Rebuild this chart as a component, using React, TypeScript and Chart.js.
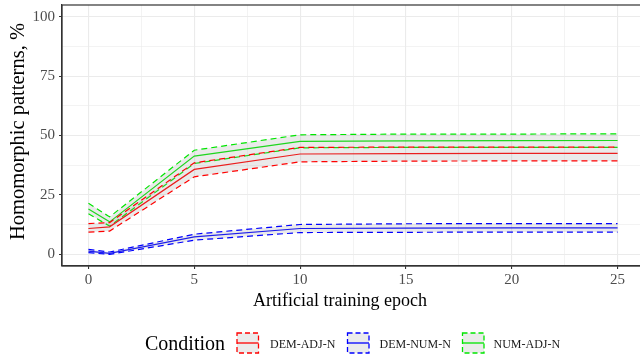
import React, { useEffect, useRef } from "react";
import { Chart, registerables } from "chart.js";

Chart.register(...registerables);

// ---- data ----
const epochs = [0, 1, 5, 10, 15, 20, 25];

const demAdjMean = [10.8, 11.5, 35.7, 42.2, 42.4, 42.5, 42.5];
const demAdjUpper = [12.9, 13.3, 38.5, 45.0, 45.1, 45.1, 45.1];
const demAdjLower = [9.3, 9.7, 32.6, 38.9, 39.2, 39.3, 39.3];

const demNumMean = [1.3, 0.3, 7.3, 10.8, 11.0, 11.1, 11.1];
const demNumUpper = [2.0, 0.9, 8.4, 12.5, 12.8, 12.9, 12.9];
const demNumLower = [0.6, -0.1, 5.9, 9.1, 9.2, 9.3, 9.3];

const numAdjMean = [19.0, 13.6, 41.3, 47.5, 47.7, 47.8, 47.9];
const numAdjUpper = [21.4, 15.7, 43.8, 50.3, 50.6, 50.6, 50.7];
const numAdjLower = [17.0, 11.8, 38.2, 44.8, 45.0, 45.0, 45.0];

const conditionNames = ["DEM-ADJ-N", "DEM-NUM-N", "NUM-ADJ-N"];
const conditionColors = ["#ff0000", "#0000ff", "#00e600"];

const xTicks = [0, 2.5, 5, 7.5, 10, 12.5, 15, 17.5, 20, 22.5, 25];
const yTicks = [0, 12.5, 25, 37.5, 50, 62.5, 75, 87.5, 100];

const xTitle = "Artificial training epoch";
const yTitle = "Homomorphic patterns, %";
const legendTitle = "Condition";

const FONT = "'Liberation Serif', 'DejaVu Serif', serif";
const RIBBON = "rgba(150,150,150,0.2)";

const toPts = (ys: number[]) => epochs.map((x, i) => ({ x, y: ys[i] }));

function buildDatasets() {
  const groups = [
    [demAdjMean, demAdjUpper, demAdjLower],
    [demNumMean, demNumUpper, demNumLower],
    [numAdjMean, numAdjUpper, numAdjLower],
  ];
  const ds: any[] = [];
  groups.forEach((g, k) => {
    const color = conditionColors[k];
    ds.push({
      label: conditionNames[k] + " upper",
      data: toPts(g[1]),
      borderColor: color,
      borderWidth: 1.2,
      borderDash: [6, 4],
      pointRadius: 0,
      fill: false,
      tension: 0,
    });
    ds.push({
      label: conditionNames[k] + " lower",
      data: toPts(g[2]),
      borderColor: color,
      borderWidth: 1.2,
      borderDash: [6, 4],
      pointRadius: 0,
      fill: "-1",
      backgroundColor: RIBBON,
      tension: 0,
    });
    ds.push({
      label: conditionNames[k],
      data: toPts(g[0]),
      borderColor: color,
      borderWidth: 1.2,
      pointRadius: 0,
      fill: false,
      tension: 0,
    });
  });
  return ds;
}

const isMajor = (v: number, step: number) => Math.abs(v / step - Math.round(v / step)) < 1e-6;

const decorPlugin = {
  id: "decor",
  afterDatasetsDraw(chart: any) {
    const { ctx, chartArea } = chart;
    ctx.save();
    ctx.strokeStyle = "#333333";
    ctx.lineWidth = 1.2;
    ctx.strokeRect(chartArea.left, chartArea.top, chartArea.right - chartArea.left, chartArea.bottom - chartArea.top);
    ctx.restore();
  },
  afterDraw(chart: any) {
    const { ctx } = chart;
    ctx.save();
    ctx.fillStyle = "#000000";
    // x title
    ctx.font = `18px ${FONT}`;
    ctx.textAlign = "center";
    ctx.textBaseline = "alphabetic";
    ctx.fillText(xTitle, 340, 305.5);
    // y title
    ctx.save();
    ctx.translate(24, 131.5);
    ctx.rotate(-Math.PI / 2);
    ctx.font = `20.5px ${FONT}`;
    ctx.textAlign = "center";
    ctx.textBaseline = "alphabetic";
    ctx.fillText(yTitle, 0, 0);
    ctx.restore();
    // legend
    ctx.font = `20px ${FONT}`;
    ctx.textAlign = "left";
    ctx.fillText(legendTitle, 145, 350);
    const keyX = [237, 347.5, 462.5];
    const textX = [270, 379.5, 493.5];
    for (let k = 0; k < 3; k++) {
      const x = keyX[k];
      const y = 333;
      const w = 21.5;
      const h = 20;
      ctx.fillStyle = "#ebebeb";
      ctx.fillRect(x, y, w, h);
      ctx.strokeStyle = conditionColors[k];
      ctx.lineWidth = 1.3;
      ctx.setLineDash([5, 3]);
      ctx.strokeRect(x, y, w, h);
      ctx.setLineDash([]);
      ctx.beginPath();
      ctx.moveTo(x, y + h / 2);
      ctx.lineTo(x + w, y + h / 2);
      ctx.stroke();
      ctx.fillStyle = "#1a1a1a";
      ctx.font = `12px ${FONT}`;
      ctx.fillText(conditionNames[k], textX[k], 348.3);
    }
    ctx.restore();
  },
};

export default function App() {
  const ref = useRef<HTMLCanvasElement | null>(null);
  useEffect(() => {
    if (!ref.current) return;
    const chart = new Chart(ref.current, {
      type: "line",
      data: { datasets: buildDatasets() },
      plugins: [decorPlugin],
      options: {
        animation: false,
        responsive: false,
        maintainAspectRatio: false,
        layout: { padding: { top: 5, right: 16, bottom: 0, left: 0 } },
        plugins: { legend: { display: false }, tooltip: { enabled: false } },
        scales: {
          x: {
            type: "linear",
            min: -1.25,
            max: 26.25,
            afterBuildTicks: (s: any) => {
              s.ticks = xTicks.map((v) => ({ value: v }));
            },
            afterFit: (s: any) => {
              s.height = 90;
              s.paddingLeft = 0;
              s.paddingRight = 0;
            },
            ticks: {
              autoSkip: false,
              maxRotation: 0,
              padding: 2,
              color: "#4d4d4d",
              font: { family: FONT, size: 15 },
              callback: (v: any) => (isMajor(Number(v), 5) ? String(v) : ""),
            },
            grid: {
              color: "#ebebeb",
              lineWidth: (c: any) => (c.tick && isMajor(c.tick.value, 5) ? 1.1 : 0.6),
              tickLength: 3,
              tickColor: (c: any) => (c.tick && isMajor(c.tick.value, 5) ? "#333333" : "rgba(0,0,0,0)"),
              tickWidth: 1.1,
            },
            border: { display: true, color: "#333333", width: 1.2 },
          },
          y: {
            type: "linear",
            min: -5,
            max: 105,
            afterBuildTicks: (s: any) => {
              s.ticks = yTicks.map((v) => ({ value: v }));
            },
            afterFit: (s: any) => {
              s.width = 62;
              s.paddingTop = 0;
              s.paddingBottom = 0;
            },
            ticks: {
              autoSkip: false,
              padding: 4,
              color: "#4d4d4d",
              font: { family: FONT, size: 15 },
              callback: (v: any) => (isMajor(Number(v), 25) ? String(v) : ""),
            },
            grid: {
              color: "#ebebeb",
              lineWidth: (c: any) => (c.tick && isMajor(c.tick.value, 25) ? 1.1 : 0.6),
              tickLength: 3,
              tickColor: (c: any) => (c.tick && isMajor(c.tick.value, 25) ? "#333333" : "rgba(0,0,0,0)"),
              tickWidth: 1.1,
            },
            border: { display: true, color: "#333333", width: 1.2 },
          },
        },
      },
    } as any);
    return () => chart.destroy();
  }, []);
  return (
    <div style={{ position: "absolute", left: 0, top: 0, width: 640, height: 356, overflow: "hidden", background: "#fff" }}>
      <canvas ref={ref} width={660} height={356} style={{ display: "block" }} />
    </div>
  );
}
